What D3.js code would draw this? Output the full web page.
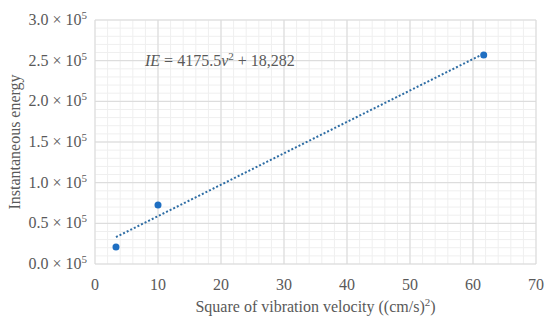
<!DOCTYPE html>
<html>
<head>
<meta charset="utf-8">
<script src="https://d3js.org/d3.v7.min.js"></script>
<style>
body { margin: 0; background: #fff; }
</style>
</head>
<body>
<svg width="550" height="321"></svg>
<script>
// data
var velSq = [3.33, 10.0, 61.7];
var energy = [21000, 72500, 257000];
var xTicks = [0, 10, 20, 30, 40, 50, 60, 70];
var yTicks = [0, 0.5, 1.0, 1.5, 2.0, 2.5, 3.0];
var eqText = ["4175.5", "18,282"];

var serif = "Liberation Serif";
var ink = "#595959";

var svg = d3.select("svg"),
    margin = {top: 20, right: 14, bottom: 57, left: 95},
    width = +svg.attr("width"),
    height = +svg.attr("height");

var x = d3.scaleLinear().domain([0, 70]).range([margin.left, width - margin.right]);
var y = d3.scaleLinear().domain([0, 300000]).range([height - margin.bottom, margin.top]);

// minor grid
svg.append("g").selectAll("line")
  .data(d3.range(0, 70.01, 2))
  .enter().append("line")
  .attr("x1", d => x(d)).attr("x2", d => x(d))
  .attr("y1", y(0)).attr("y2", y(300000))
  .attr("stroke", "#efefef");
svg.append("g").selectAll("line")
  .data(d3.range(0, 300001, 10000))
  .enter().append("line")
  .attr("y1", d => y(d)).attr("y2", d => y(d))
  .attr("x1", x(0)).attr("x2", x(70))
  .attr("stroke", "#efefef");

// major grid
svg.append("g").selectAll("line")
  .data(xTicks)
  .enter().append("line")
  .attr("x1", d => x(d)).attr("x2", d => x(d))
  .attr("y1", y(0)).attr("y2", y(300000))
  .attr("stroke", "#d9d9d9");
svg.append("g").selectAll("line")
  .data(yTicks)
  .enter().append("line")
  .attr("y1", d => y(d * 1e5)).attr("y2", d => y(d * 1e5))
  .attr("x1", x(0)).attr("x2", x(70))
  .attr("stroke", "#d9d9d9");

// x tick labels
svg.append("g").selectAll("text")
  .data(xTicks)
  .enter().append("text")
  .attr("x", d => x(d))
  .attr("y", y(0) + 26)
  .attr("text-anchor", "middle")
  .attr("font-family", serif)
  .attr("font-size", 16)
  .attr("fill", ink)
  .text(d => d);

// y tick labels
var yl = svg.append("g").selectAll("text")
  .data(yTicks)
  .enter().append("text")
  .attr("x", margin.left - 8)
  .attr("y", d => y(d * 1e5) + 5)
  .attr("text-anchor", "end")
  .attr("font-family", serif)
  .attr("font-size", 16)
  .attr("fill", ink);
yl.append("tspan").text(d => d.toFixed(1) + " \u00d7 10");
yl.append("tspan").attr("dy", -6).attr("font-size", 11).text("5");

// axis titles
svg.append("text")
  .attr("transform", "translate(20," + ((y(0) + y(300000)) / 2) + ") rotate(-90)")
  .attr("text-anchor", "middle")
  .attr("font-family", serif)
  .attr("font-size", 16)
  .attr("fill", ink)
  .text("Instantaneous energy");

var xt = svg.append("text")
  .attr("x", (x(0) + x(70)) / 2)
  .attr("y", 312)
  .attr("text-anchor", "middle")
  .attr("font-family", serif)
  .attr("font-size", 16)
  .attr("fill", ink);
xt.append("tspan").text("Square of vibration velocity ((cm/s)");
xt.append("tspan").attr("dy", -6).attr("font-size", 11).text("2");
xt.append("tspan").attr("dy", 6).text(")");

// least squares trendline from the points
var mx = d3.mean(velSq), my = d3.mean(energy);
var sxy = d3.sum(velSq, (v, i) => (v - mx) * (energy[i] - my));
var sxx = d3.sum(velSq, v => (v - mx) * (v - mx));
var slope = sxy / sxx, icpt = my - slope * mx;
var xr = d3.extent(velSq);
svg.append("line")
  .attr("x1", x(xr[0])).attr("y1", y(slope * xr[0] + icpt))
  .attr("x2", x(xr[1])).attr("y2", y(slope * xr[1] + icpt))
  .attr("stroke", "#2e6da4")
  .attr("stroke-width", 2)
  .attr("stroke-dasharray", "2,2");

// points
svg.append("g").selectAll("circle")
  .data(velSq)
  .enter().append("circle")
  .attr("cx", d => x(d))
  .attr("cy", (d, i) => y(energy[i]))
  .attr("r", 3.5)
  .attr("fill", "#1f6fc2");

// equation
var eq = svg.append("text")
  .attr("x", 145)
  .attr("y", 66)
  .attr("font-family", serif)
  .attr("font-size", 16)
  .attr("fill", ink);
eq.append("tspan").attr("font-style", "italic").text("IE");
eq.append("tspan").text(" = " + eqText[0]);
eq.append("tspan").attr("font-style", "italic").text("v");
eq.append("tspan").attr("dy", -6).attr("font-size", 11).text("2");
eq.append("tspan").attr("dy", 6).text(" + " + eqText[1]);
</script>
</body>
</html>
